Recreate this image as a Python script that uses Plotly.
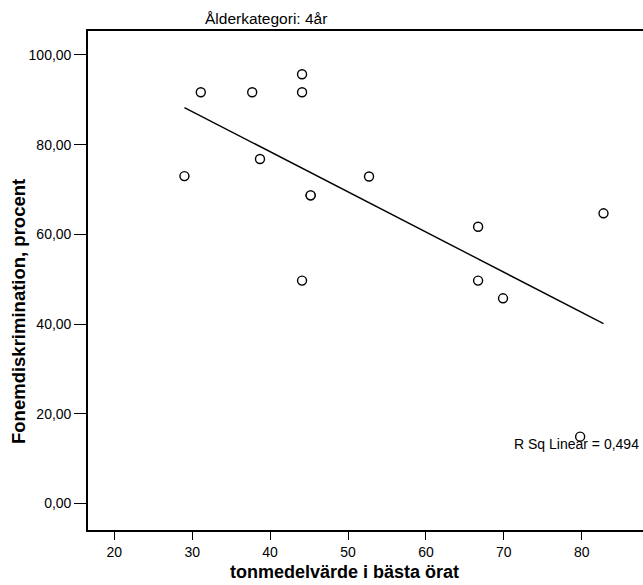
import numpy as np
import plotly.graph_objects as go

# Hearing threshold (best ear) vs. phoneme discrimination, 4-year-olds
tonmedel = [29, 31.1, 37.7, 44.1, 44.1, 38.7, 45.2, 45.2, 52.7, 44.1, 66.7, 66.7, 69.9, 82.8, 79.8]
fonem = [73, 91.7, 91.7, 95.7, 91.7, 76.8, 68.7, 68.7, 72.9, 49.7, 61.7, 49.7, 45.75, 64.7, 14.9]

x_ticks = [20, 30, 40, 50, 60, 70, 80]
y_ticks = [0, 20, 40, 60, 80, 100]
y_ticktext = ["0,00", "20,00", "40,00", "60,00", "80,00", "100,00"]

title_text = "Ålderkategori: 4år"
x_title = "tonmedelvärde i bästa örat"
y_title = "Fonemdiskrimination, procent"
r2_text = "R Sq Linear = 0,494"

# Least-squares fit line over the observed x span
slope, intercept = np.polyfit(tonmedel, fonem, 1)
fit_x = [min(tonmedel), max(tonmedel)]
fit_y = [intercept + slope * v for v in fit_x]

FONT = "Liberation Sans, Arial, sans-serif"

fig = go.Figure()
fig.add_trace(go.Scatter(
    x=fit_x, y=fit_y, mode="lines",
    line=dict(color="black", width=1.4),
    hoverinfo="skip", showlegend=False,
))
fig.add_trace(go.Scatter(
    x=tonmedel, y=fonem, mode="markers",
    marker=dict(symbol="circle", size=9, color="white",
                line=dict(color="black", width=1.4)),
    showlegend=False,
))

fig.update_layout(
    width=643, height=585,
    margin=dict(l=88, r=0, t=31, b=55),
    paper_bgcolor="white", plot_bgcolor="white",
    font=dict(family=FONT, size=14, color="black"),
    xaxis=dict(
        range=[16.62, 87.87], tickvals=x_ticks,
        ticks="outside", ticklen=8, tickcolor="black", tickwidth=1.3,
        showline=True, linecolor="black", linewidth=1.6, mirror=True,
        showgrid=False, zeroline=False,
        tickfont=dict(family=FONT, size=14, color="black"),
    ),
    yaxis=dict(
        range=[-5.91, 105.35], tickvals=y_ticks, ticktext=y_ticktext,
        ticks="outside", ticklen=12, tickcolor="black", tickwidth=1.3,
        showline=True, linecolor="black", linewidth=1.6,
        showgrid=False, zeroline=False,
        tickfont=dict(family=FONT, size=14, color="black"),
    ),
    annotations=[
        dict(text=title_text, xref="paper", yref="paper",
             x=(266 - 88) / 555, y=1 + (31 - 19) / 499,
             xanchor="center", yanchor="middle", showarrow=False,
             font=dict(family=FONT, size=15.5, color="black")),
        dict(text="<b>" + x_title + "</b>", xref="paper", yref="paper",
             x=(344 - 88) / 555, y=-(572 - 530) / 499,
             xanchor="center", yanchor="middle", showarrow=False,
             font=dict(family=FONT, size=18, color="black")),
        dict(text="<b>" + y_title + "</b>", xref="paper", yref="paper",
             x=-(88 - 18) / 555, y=(530 - 312) / 499,
             xanchor="center", yanchor="middle", showarrow=False,
             textangle=-90,
             font=dict(family=FONT, size=18.5, color="black")),
        dict(text=r2_text, xref="paper", yref="paper",
             x=(641 - 88) / 555, y=(530 - 444) / 499,
             xanchor="right", yanchor="middle", showarrow=False,
             font=dict(family=FONT, size=14, color="black")),
    ],
)

fig.write_html("out.html")
